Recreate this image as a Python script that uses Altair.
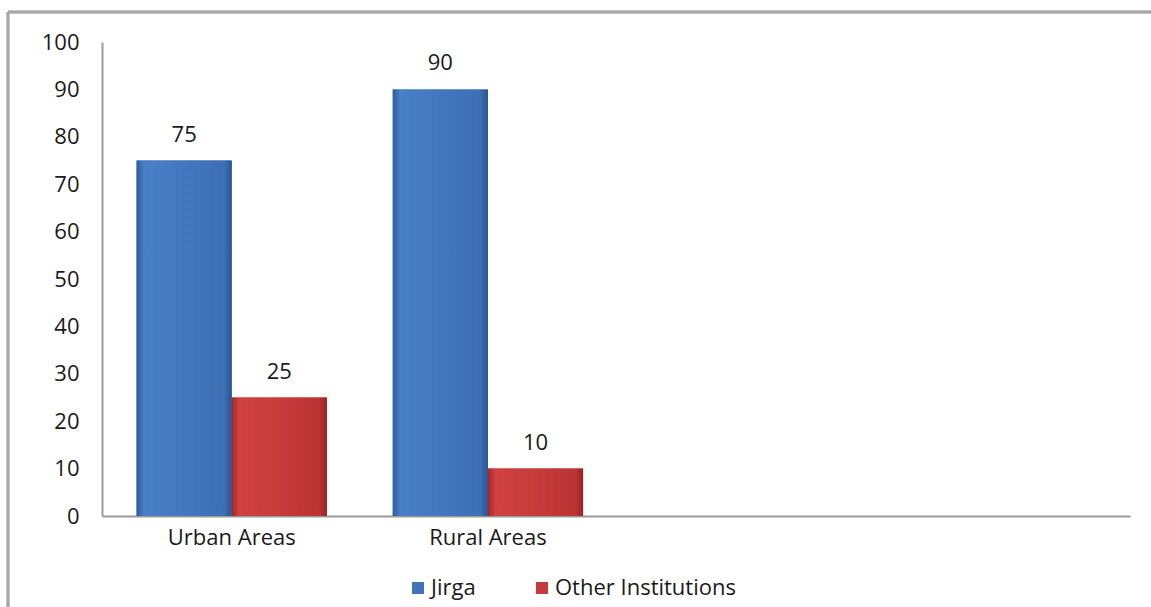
import altair as alt
import pandas as pd

categories = ["Urban Areas", "Rural Areas"]
empty_slots = ["", " "]
series = ["Jirga", "Other Institutions"]
jirga = [75, 90]
other = [25, 10]
y_ticks = [0, 10, 20, 30, 40, 50, 60, 70, 80, 90, 100]

rows = []
for c, j, o in zip(categories, jirga, other):
    rows.append({"area": c, "series": series[0], "value": j})
    rows.append({"area": c, "series": series[1], "value": o})
df = pd.DataFrame(rows)

FONT = "Open Sans"
FS = 22
AXIS_GRAY = "#9A9A9A"
colors = ["#4073BA", "#C53A3A"]

x_enc = alt.X(
    "area:N",
    scale=alt.Scale(domain=categories + empty_slots, paddingInner=0.257, paddingOuter=0.135),
    sort=None,
    axis=alt.Axis(title=None, labelAngle=0, ticks=False, domainColor=AXIS_GRAY, domainWidth=2,
                  labelFont=FONT, labelFontSize=FS, labelColor="#1a1a1a", labelPadding=11),
)
y_enc = alt.Y(
    "value:Q",
    scale=alt.Scale(domain=[0, 100], nice=False),
    axis=alt.Axis(title=None, values=y_ticks, grid=False, ticks=False, domainColor=AXIS_GRAY,
                  domainWidth=2, labelFont=FONT, labelFontSize=FS, labelColor="#1a1a1a",
                  labelPadding=23),
)
xo = alt.XOffset("series:N", scale=alt.Scale(domain=series, paddingInner=0, paddingOuter=0))

base = alt.Chart(df)

bars = base.mark_bar().encode(
    x=x_enc, y=y_enc, xOffset=xo,
    color=alt.Color("series:N", scale=alt.Scale(domain=series, range=colors),
                    legend=alt.Legend(title=None, orient="none", direction="horizontal",
                                      legendX=305, legendY=535, symbolType="square",
                                      symbolSize=144, symbolStrokeWidth=0,
                                      labelFont=FONT, labelFontSize=FS, labelColor="#1a1a1a",
                                      labelLimit=500, columnPadding=55, labelOffset=2)),
)

grad_blue = alt.Gradient(
    gradient="linear", x1=0, x2=1, y1=0, y2=0,
    stops=[alt.GradientStop(color="#2E5B9A", offset=0),
           alt.GradientStop(color="#4A80C6", offset=0.08),
           alt.GradientStop(color="#4377BE", offset=0.5),
           alt.GradientStop(color="#3D6FB4", offset=0.92),
           alt.GradientStop(color="#2A5592", offset=1)],
)
grad_red = alt.Gradient(
    gradient="linear", x1=0, x2=1, y1=0, y2=0,
    stops=[alt.GradientStop(color="#A02828", offset=0),
           alt.GradientStop(color="#D04242", offset=0.08),
           alt.GradientStop(color="#C73B3B", offset=0.5),
           alt.GradientStop(color="#BB3434", offset=0.92),
           alt.GradientStop(color="#962424", offset=1)],
)

over_blue = base.transform_filter(alt.datum.series == series[0]).mark_bar(fill=grad_blue).encode(
    x=x_enc, y=y_enc, xOffset=xo)
over_red = base.transform_filter(alt.datum.series == series[1]).mark_bar(fill=grad_red).encode(
    x=x_enc, y=y_enc, xOffset=xo)

labels = base.mark_text(baseline="bottom", dy=-14, font=FONT, fontSize=FS, color="#1a1a1a").encode(
    x=x_enc, y=y_enc, xOffset=xo, text="value:Q")

frame_top = base.mark_rule(color="#A8A8A8", strokeWidth=2.5).encode(
    x=alt.value(-94), x2=alt.value(1060), y=alt.value(-30))
frame_left = base.mark_rule(color="#A8A8A8", strokeWidth=2.5).encode(
    x=alt.value(-94), y=alt.value(-30), y2=alt.value(600))

chart = alt.layer(bars, over_blue, over_red, labels, frame_top, frame_left).properties(
    width=1028, height=474,
    background="white",
    autosize=alt.AutoSizeParams(type="none"),
    padding={"left": 102, "top": 42, "right": 21, "bottom": 91},
).configure_view(strokeWidth=0, stroke=None)

chart.save("out.html", embed_options={"renderer": "svg", "actions": False})
